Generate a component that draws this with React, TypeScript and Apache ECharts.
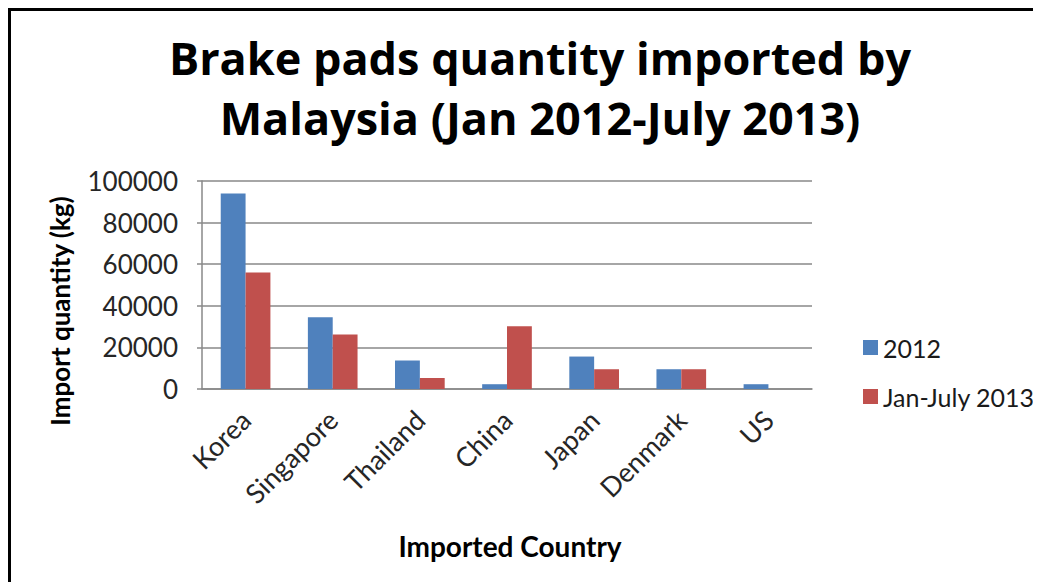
import React, { useEffect, useRef } from "react";
import * as echarts from "echarts";

const countries = ["Korea", "Singapore", "Thailand", "China", "Japan", "Denmark", "US"];
const values2012 = [94000, 34500, 13700, 2300, 15600, 9500, 2300];
const values2013 = [56000, 26200, 5300, 30200, 9500, 9500, 0];
const seriesNames = ["2012", "Jan-July 2013"];
const titleLines = ["Brake pads quantity imported by", "Malaysia (Jan 2012-July 2013)"];
const yAxisTitle = "Import quantity (kg)";
const xAxisTitle = "Imported Country";

const FONT = "Lato";
const TITLE_FONT = "Open Sans";
const GRID = "#888888";

export default function App() {
  const ref = useRef<HTMLDivElement>(null);
  useEffect(() => {
    if (!ref.current) return;
    const chart = echarts.init(ref.current, null, { renderer: "svg" });
    chart.setOption({
      animation: false,
      backgroundColor: "#ffffff",
      textStyle: { fontFamily: FONT },
      title: {
        text: titleLines.join("\n"),
        left: 527,
        top: 14,
        textAlign: "center",
        textStyle: {
          fontFamily: TITLE_FONT,
          fontSize: 45,
          fontWeight: "bold",
          color: "#000000",
          lineHeight: 60,
        },
      },
      legend: {
        orient: "vertical",
        left: 850,
        top: 322,
        itemWidth: 15,
        itemHeight: 15,
        itemGap: 24,
        icon: "rect",
        textStyle: { fontFamily: FONT, fontSize: 25, color: "#1a1a1a", lineHeight: 24, padding: [0, 0, 0, 0] },
        data: seriesNames,
      },
      grid: { left: 194, right: 229, top: 173, bottom: 193, containLabel: false },
      xAxis: {
        type: "category",
        data: countries,
        axisLine: { show: true, lineStyle: { color: GRID, width: 1.5 } },
        axisTick: { show: false },
        axisLabel: {
          rotate: 45,
          interval: 0,
          margin: 26,
          fontFamily: FONT,
          fontSize: 27,
          color: "#262626",
        },
      },
      yAxis: {
        type: "value",
        min: 0,
        max: 100000,
        interval: 20000,
        axisLine: { show: true, lineStyle: { color: GRID, width: 1.5 } },
        axisTick: { show: true, length: 5, lineStyle: { color: GRID, width: 1.5 } },
        splitLine: { show: true, lineStyle: { color: GRID, width: 1.5 } },
        axisLabel: {
          margin: 24,
          fontFamily: FONT,
          fontSize: 26,
          color: "#262626",
          formatter: (v: number) => String(v),
        },
      },
      series: [
        {
          name: seriesNames[0],
          type: "bar",
          data: values2012,
          barGap: "0%",
          barCategoryGap: "43%",
          itemStyle: { color: "#4F81BD" },
        },
        {
          name: seriesNames[1],
          type: "bar",
          data: values2013,
          barGap: "0%",
          barCategoryGap: "43%",
          itemStyle: { color: "#C0504D" },
        },
      ],
      graphic: [
        {
          type: "rect",
          shape: { x: 1.5, y: 1.5, width: 3000, height: 3000 },
          style: { fill: "none", stroke: "#000000", lineWidth: 3 },
          silent: true,
        },
        {
          type: "text",
          x: 52,
          y: 303,
          rotation: Math.PI / 2,
          style: {
            text: yAxisTitle,
            fontFamily: FONT,
            fontSize: 26,
            fontWeight: "bold",
            fill: "#000000",
            align: "center",
            verticalAlign: "middle",
          },
        },
        {
          type: "text",
          x: 502,
          y: 538,
          style: {
            text: xAxisTitle,
            fontFamily: FONT,
            fontSize: 28,
            fontWeight: "bold",
            fill: "#000000",
            align: "center",
            verticalAlign: "middle",
          },
        },
      ],
    });
    return () => chart.dispose();
  }, []);
  return <div ref={ref} style={{ width: 1033, height: 574 }} />;
}
